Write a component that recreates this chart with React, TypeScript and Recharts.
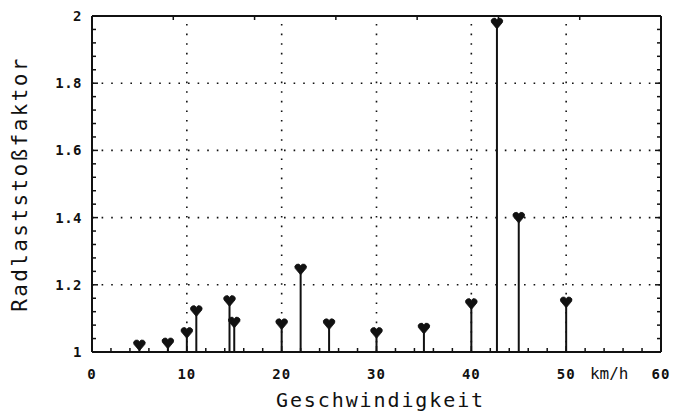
import React from "react";
import {
  ComposedChart,
  Scatter,
  XAxis,
  YAxis,
  ReferenceLine,
  Label,
} from "recharts";

// Geschwindigkeit (km/h) and Radlaststoßfaktor
const speeds = [5, 8, 10, 11, 14.5, 15, 20, 22, 25, 30, 35, 40, 42.7, 45, 50];
const factors = [
  1.02, 1.026, 1.057, 1.122, 1.152, 1.088, 1.083, 1.246, 1.083, 1.057, 1.07,
  1.143, 1.978, 1.4, 1.148,
];

const xMajor = [0, 10, 20, 30, 40, 50, 60];
const yMajor = [1, 1.2, 1.4, 1.6, 1.8, 2];
const xGrid = [10, 20, 30, 40, 50];
const yGrid = [1.2, 1.4, 1.6, 1.8];
const xTicks = Array.from({ length: 31 }, (_, i) => i * 2);
const yTicks = Array.from({ length: 26 }, (_, i) => +(1 + i * 0.04).toFixed(2));

const points = speeds.map((x, i) => ({ x, y: factors[i] }));

const INK = "#111";
const mono = "'DejaVu Sans Mono', monospace";

const isMajorX = (v: number) => xMajor.includes(v);
const isMajorY = (v: number) => yMajor.some((m) => Math.abs(m - v) < 1e-6);

const fmtY = (v: number) => (v === 1 || v === 2 ? String(v) : v.toFixed(1));

const BottomTick = (props: any) => {
  const { x, y, payload } = props;
  const v = payload.value;
  const major = isMajorX(v);
  return (
    <g>
      <line x1={x} x2={x} y1={y} y2={y - (major ? 6 : 4)} stroke={INK} strokeWidth={1.5} />
      {major && (
        <text
          x={x}
          y={y + 27}
          textAnchor="middle"
          fontFamily={mono}
          fontWeight="bold"
          fontSize={14}
          letterSpacing={1}
          fill={INK}
        >
          {v}
        </text>
      )}
      {v === 50 && (
        <text x={x + 43} y={y + 27} textAnchor="middle" fontFamily={mono} fontSize={16} fill={INK}>
          km/h
        </text>
      )}
    </g>
  );
};

const TopTick = (props: any) => {
  const { x, y, payload } = props;
  const major = isMajorX(payload.value);
  return <line x1={x} x2={x} y1={y} y2={y + (major ? 6 : 4)} stroke={INK} strokeWidth={1.5} />;
};

const LeftTick = (props: any) => {
  const { x, y, payload } = props;
  const v = payload.value;
  const major = isMajorY(v);
  return (
    <g>
      <line x1={x} x2={x + (major ? 6 : 4)} y1={y} y2={y} stroke={INK} strokeWidth={1.5} />
      {major && (
        <text
          x={x - 10}
          y={y + 5}
          textAnchor="end"
          fontFamily={mono}
          fontWeight="bold"
          fontSize={14}
          letterSpacing={0.5}
          fill={INK}
        >
          {fmtY(v)}
        </text>
      )}
    </g>
  );
};

const RightTick = (props: any) => {
  const { x, y, payload } = props;
  const major = isMajorY(payload.value);
  return <line x1={x} x2={x - (major ? 6 : 4)} y1={y} y2={y} stroke={INK} strokeWidth={1.5} />;
};

const Marker = (props: any) => {
  const { cx, cy } = props;
  const d = `M ${cx} ${cy + 5.5} L ${cx - 5.5} ${cy - 1} A 2.8 2.8 0 0 1 ${cx} ${cy - 3.5} A 2.8 2.8 0 0 1 ${cx + 5.5} ${cy - 1} Z`;
  return <path d={d} fill={INK} stroke={INK} strokeWidth={0.8} />;
};

export default function App() {
  return (
    <div style={{ position: "absolute", left: 0, top: 0, background: "#fff" }}>
      <ComposedChart
        width={688}
        height={413}
        data={points}
        margin={{ top: 15, right: 26, bottom: 0, left: 0 }}
      >
        <XAxis
          dataKey="x"
          type="number"
          domain={[0, 60]}
          ticks={xTicks}
          interval={0}
          tickSize={0}
          tickMargin={0}
          tickLine={false}
          tick={<BottomTick />}
          height={61}
          axisLine={{ stroke: INK, strokeWidth: 2 }}
          allowDataOverflow
        >
          <Label
            value="Geschwindigkeit"
            position="insideBottom"
            offset={6}
            dx={4}
            style={{ fontFamily: mono, fontSize: 20, letterSpacing: 1.9, fill: INK }}
          />
        </XAxis>
        <XAxis
          xAxisId="top"
          orientation="top"
          type="number"
          domain={[0, 60]}
          ticks={xTicks}
          interval={0}
          tickSize={0}
          tickMargin={0}
          tickLine={false}
          tick={<TopTick />}
          height={1}
          axisLine={{ stroke: INK, strokeWidth: 2 }}
          allowDataOverflow
        />
        <YAxis
          type="number"
          domain={[1, 2]}
          ticks={yTicks}
          interval={0}
          tickSize={0}
          tickMargin={0}
          tickLine={false}
          tick={<LeftTick />}
          width={92}
          axisLine={{ stroke: INK, strokeWidth: 2 }}
          allowDataOverflow
        >
          <Label
            value="Radlaststoßfaktor"
            angle={-90}
            position="insideLeft"
            offset={20}
            style={{
              fontFamily: mono,
              fontSize: 21,
              letterSpacing: 2.4,
              fill: INK,
              textAnchor: "middle",
            }}
          />
        </YAxis>
        <YAxis
          yAxisId="right"
          orientation="right"
          type="number"
          domain={[1, 2]}
          ticks={yTicks}
          interval={0}
          tickSize={0}
          tickMargin={0}
          tickLine={false}
          tick={<RightTick />}
          width={1}
          axisLine={{ stroke: INK, strokeWidth: 2 }}
          allowDataOverflow
        />
        {xGrid.map((v) => (
          <ReferenceLine key={"gx" + v} x={v} stroke={INK} strokeWidth={1.6} strokeDasharray="1.6 8" />
        ))}
        {yGrid.map((v) => (
          <ReferenceLine key={"gy" + v} y={v} stroke={INK} strokeWidth={1.6} strokeDasharray="1.6 8" />
        ))}
        {points.map((p) => (
          <ReferenceLine
            key={"s" + p.x}
            segment={[
              { x: p.x, y: 1 },
              { x: p.x, y: p.y },
            ]}
            stroke={INK}
            strokeWidth={2}
          />
        ))}
        <Scatter dataKey="y" fill={INK} shape={<Marker />} isAnimationActive={false} />
      </ComposedChart>
    </div>
  );
}
